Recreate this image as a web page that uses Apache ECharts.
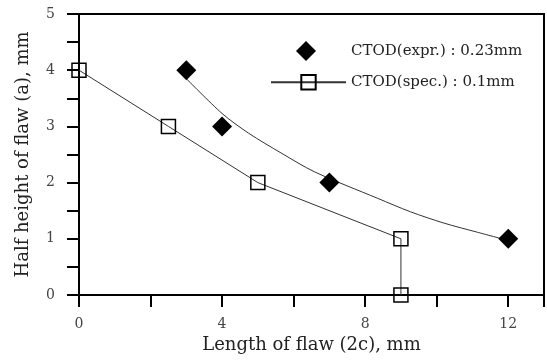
<!DOCTYPE html>
<html><head><meta charset="utf-8">
<script src="https://cdn.jsdelivr.net/npm/echarts@6/dist/echarts.min.js"></script>
<style>html,body{margin:0;padding:0;background:#fff}#c{width:547px;height:360px}</style>
</head><body><div id="c"></div>
<script>
const exprPoints = [[3, 4], [4, 3], [7, 2], [12, 1]];
const exprCurve = [[3.0, 3.85], [4.0, 3.23], [4.74, 2.88], [5.67, 2.52], [6.59, 2.19], [8.35, 1.72], [9.27, 1.48], [10.2, 1.28], [11.12, 1.12], [12.0, 0.97]];
const specPoints = [[0, 4], [2.5, 3], [5, 2], [9, 1], [9, 0]];
const xLabels = [0, 4, 8, 12];
const yLabels = [0, 1, 2, 3, 4, 5];
const FONT = 'DejaVu Serif';
const EXPR = 'CTOD(expr.) : 0.23mm';
const SPEC = 'CTOD(spec.) : 0.1mm';

const chart = echarts.init(document.getElementById('c'), null, {renderer: 'canvas'});
chart.setOption({
  animation: false,
  backgroundColor: '#fff',
  grid: {left: 79, right: 1, top: 14, bottom: 65, show: true, borderColor: '#000', borderWidth: 2},
  xAxis: {
    type: 'value', min: 0, max: 13, interval: 2,
    name: 'Length of flaw (2c), mm', nameLocation: 'middle', nameGap: 40,
    nameTextStyle: {fontFamily: FONT, fontSize: 18, color: '#222'},
    axisLine: {show: true, lineStyle: {color: '#000', width: 2}},
    axisTick: {show: true, inside: false, length: 12, lineStyle: {color: '#000', width: 2}},
    axisLabel: {margin: 22, fontFamily: FONT, fontSize: 14, color: '#444',
      formatter: v => xLabels.indexOf(v) >= 0 ? String(v) : ''},
    splitLine: {show: false}
  },
  yAxis: {
    type: 'value', min: 0, max: 5, interval: 0.5,
    name: 'Half height of flaw (a), mm', nameLocation: 'middle', nameGap: 47,
    nameTextStyle: {fontFamily: FONT, fontSize: 18, color: '#222'},
    axisLine: {show: true, lineStyle: {color: '#000', width: 2}},
    axisTick: {show: true, inside: false, length: 12, lineStyle: {color: '#000', width: 2}},
    axisLabel: {margin: 24, fontFamily: FONT, fontSize: 14, color: '#444',
      formatter: v => yLabels.indexOf(v) >= 0 ? String(v) : ''},
    splitLine: {show: false}
  },
  legend: [
    {
      orient: 'vertical', left: 291, top: 36, itemWidth: 20, itemHeight: 20,
      textStyle: {fontFamily: FONT, fontSize: 15, color: '#222', padding: [0, 0, 0, 30]},
      data: [EXPR]
    },
    {
      orient: 'vertical', left: 265, top: 69, itemWidth: 75, itemHeight: 18,
      textStyle: {fontFamily: FONT, fontSize: 15, color: '#222'},
      data: [SPEC]
    }
  ],
  series: [
    {
      name: 'expr-curve', type: 'line', data: exprCurve, smooth: 0.3, showSymbol: false,
      lineStyle: {color: '#333', width: 1}, silent: true, z: 1
    },
    {
      name: EXPR, type: 'scatter', data: exprPoints, symbol: 'diamond', symbolSize: 20,
      itemStyle: {color: '#000', opacity: 1}, z: 3
    },
    {
      name: SPEC, type: 'line', data: specPoints, symbol: 'rect', symbolSize: 14,
      showAllSymbol: true,
      lineStyle: {color: '#333', width: 1},
      itemStyle: {color: 'rgba(0,0,0,0)', borderColor: '#000', borderWidth: 1.5}, z: 2
    }
  ]
});
</script></body></html>
